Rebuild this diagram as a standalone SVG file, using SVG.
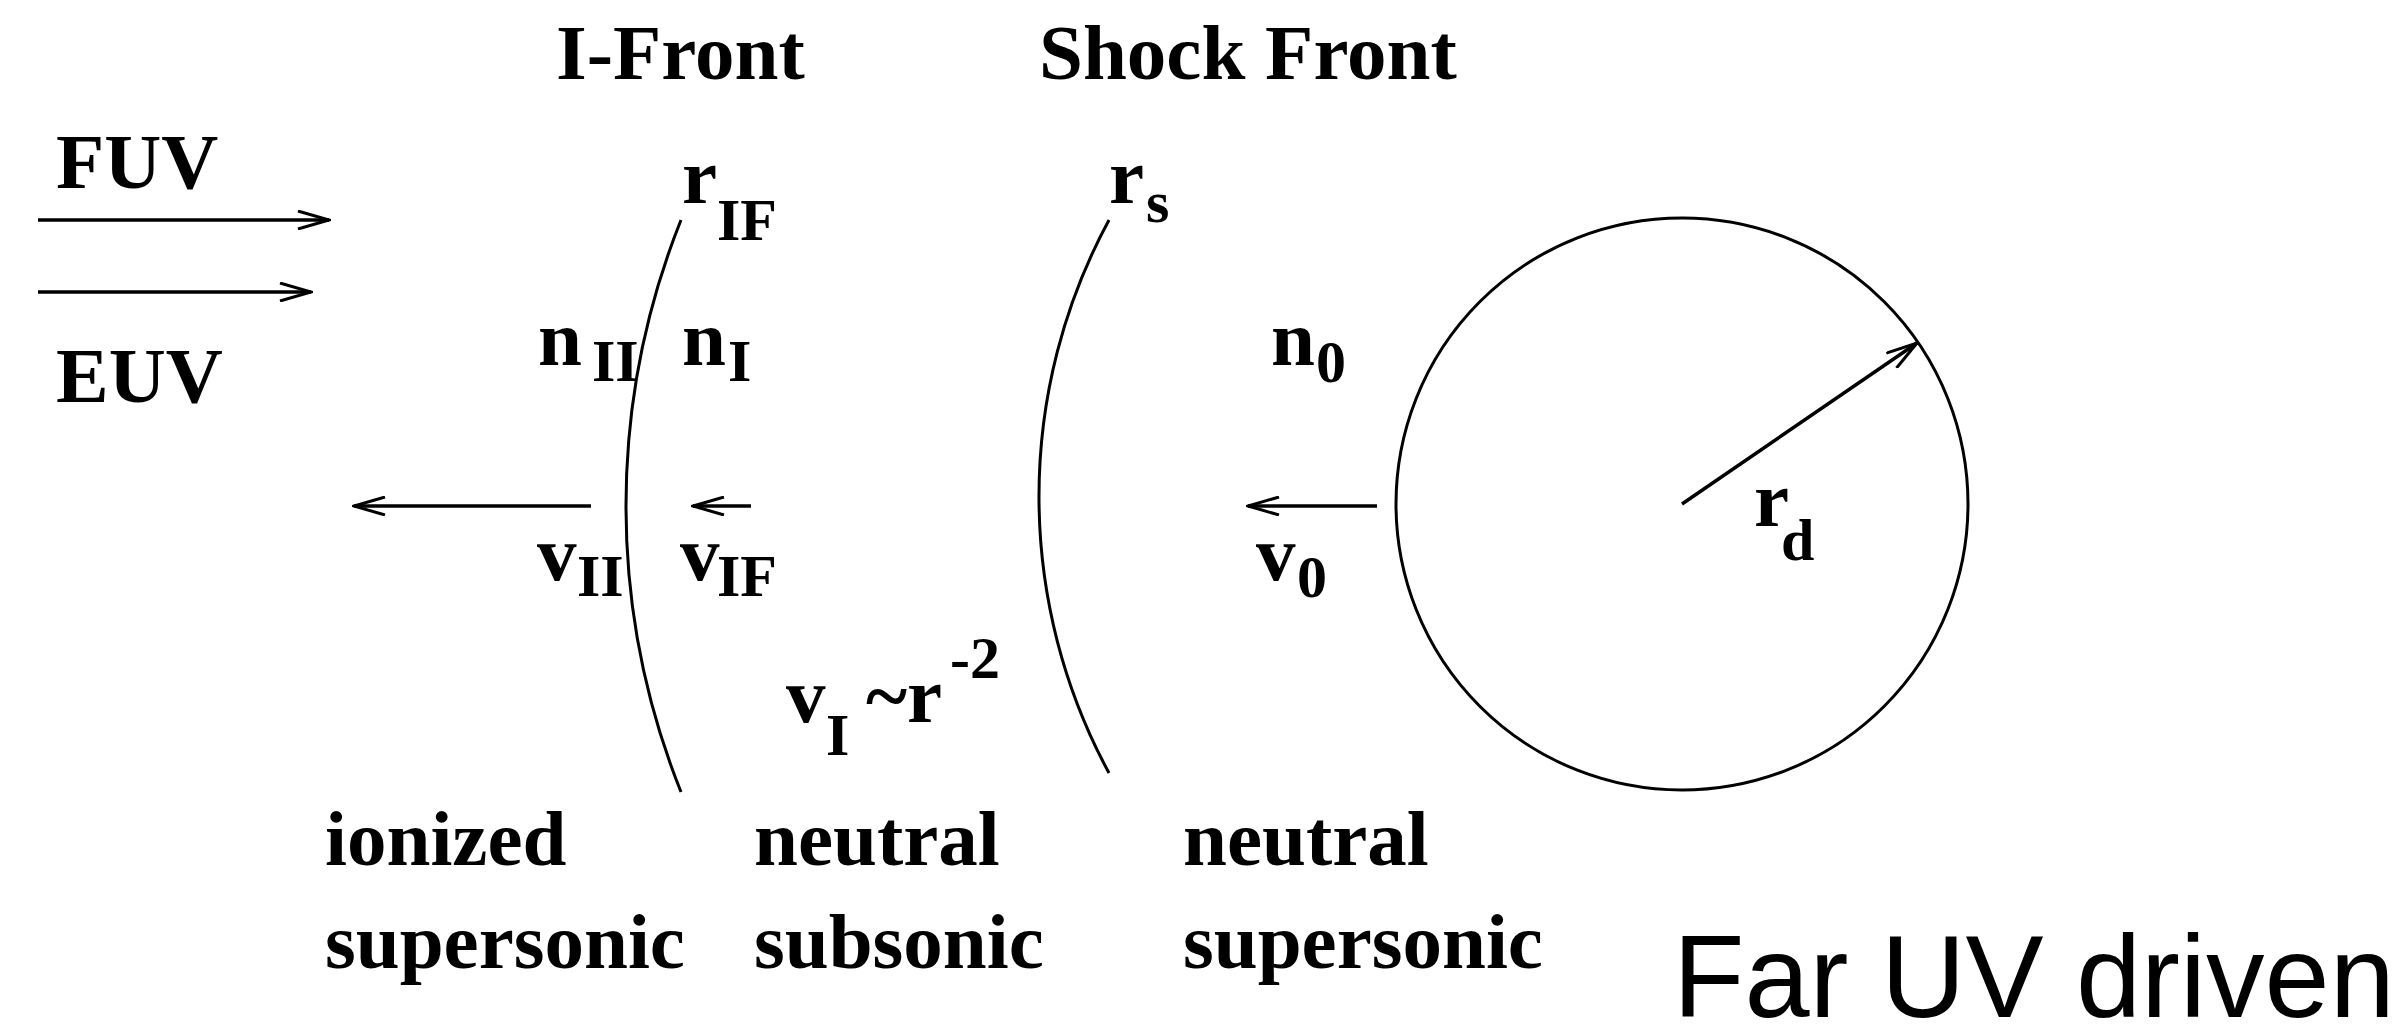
<svg xmlns="http://www.w3.org/2000/svg" width="2396" height="1024" viewBox="0 0 2396 1024">
<style>
.t{font-family:"Liberation Serif","Times New Roman",serif;font-weight:bold;font-size:79px;fill:#000}
.s{font-size:60px}
.sans{font-family:"Liberation Sans",Arial,sans-serif;font-size:117px;fill:#000}
.ln{fill:none;stroke:#000;stroke-width:3}
.ar{fill:none;stroke:#000;stroke-width:3.5;marker-end:url(#ah)}
</style>
<defs>
<marker id="ah" viewBox="0 0 34 20" refX="32" refY="10" markerWidth="34" markerHeight="20" markerUnits="userSpaceOnUse" orient="auto">
<path d="M1,1 L32,10 L1,19" fill="none" stroke="#000" stroke-width="3"/>
</marker>
</defs>
<rect width="2396" height="1024" fill="#fff"/>
<g id="labels-top">
<text class="t" x="556" y="79">I-Front</text>
<text class="t" x="1039" y="79">Shock Front</text>
</g>
<g id="uv-labels">
<text class="t" x="56" y="188">FUV</text>
<text class="t" x="56" y="402">EUV</text>
</g>
<g id="i-front">
<path class="ln" d="M681 220 A771 771 0 0 0 681 792"/>
<text class="t" x="682" y="203">r</text><text class="t s" x="717" y="240">IF</text>
<text class="t" x="538" y="365">n</text><text class="t s" x="592" y="381">II</text>
<text class="t" x="682" y="365">n</text><text class="t s" x="728" y="381">I</text>
<text class="t" x="537" y="580">v</text><text class="t s" x="577" y="596">II</text>
<text class="t" x="680" y="580">v</text><text class="t s" x="717" y="596">IF</text>
</g>
<g id="shock-front">
<path class="ln" d="M1109 220 A581 581 0 0 0 1109 773"/>
<text class="t" x="1109" y="203">r</text><text class="t s" x="1146" y="222">s</text>
<text class="t" x="1271" y="365">n</text><text class="t s" x="1316" y="382">0</text>
<text class="t" x="1256" y="580">v</text><text class="t s" x="1297" y="597">0</text>
</g>
<g id="velocity-law">
<text class="t" x="786" y="722">v</text><text class="t s" x="826" y="755">I</text>
<text class="t" x="866" y="722">~r</text><text class="t s" x="950" y="678">-2</text>
</g>
<g id="disk">
<circle class="ln" cx="1682" cy="504" r="286"/>
<text class="t" x="1754" y="526">r</text><text class="t s" x="1781" y="560">d</text>
</g>
<g id="region-labels">
<text class="t" x="325" y="865">ionized</text>
<text class="t" x="325" y="968">supersonic</text>
<text class="t" x="754" y="865">neutral</text>
<text class="t" x="754" y="968">subsonic</text>
<text class="t" x="1183" y="865">neutral</text>
<text class="t" x="1183" y="968">supersonic</text>
</g>
<g id="caption">
<text class="sans" x="1673" y="1017">Far UV driven</text>
</g>
<g id="connectors">
<line class="ar" x1="38" y1="220" x2="329" y2="220"/>
<line class="ar" x1="38" y1="292" x2="311" y2="292"/>
<line class="ar" x1="591" y1="506" x2="354" y2="506"/>
<line class="ar" x1="751" y1="506" x2="693" y2="506"/>
<line class="ar" x1="1377" y1="506" x2="1248" y2="506"/>
<line class="ar" x1="1682" y1="504" x2="1917" y2="343"/>
</g>
</svg>
